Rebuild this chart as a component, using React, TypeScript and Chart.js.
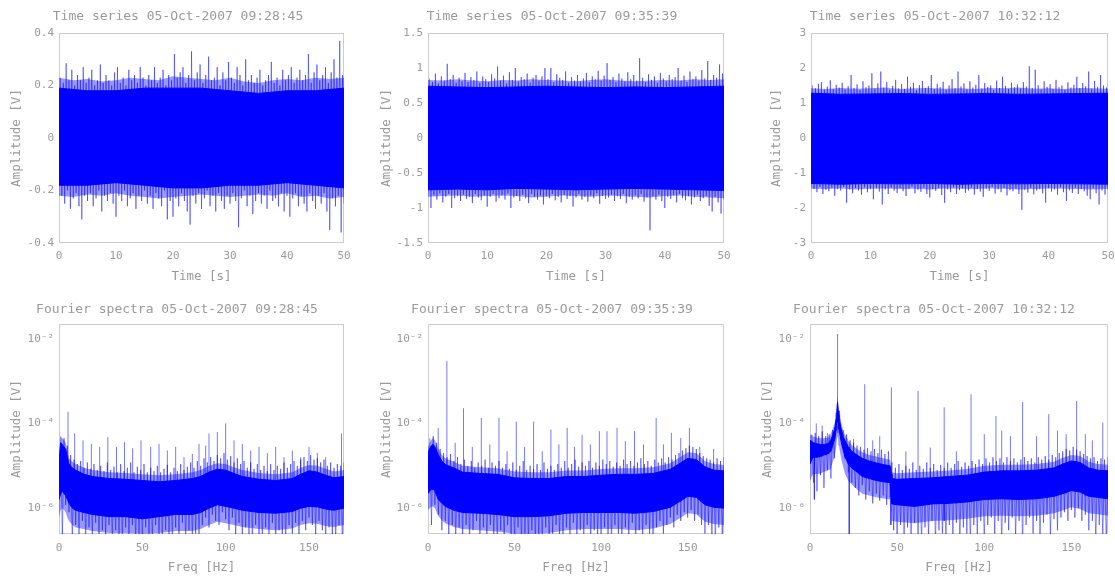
import React, { useEffect, useRef } from "react";
import { Chart, registerables } from "chart.js";

Chart.register(...registerables);

const FONT = "'DejaVu Sans Mono', 'Liberation Mono', monospace";
const TEXT = "#9a9a9a";
const FRAME = "#cccccc";
const BLUE = "#0000ff";
const HALO = "rgba(0, 0, 255, 0.4)";
const THIN = "rgba(0, 0, 255, 0.45)";
const SPIKE = "rgba(30, 30, 255, 0.6)";

// ---------- axis data ----------
const TIME_TICKS = [0, 10, 20, 30, 40, 50];
const TIME_MAX = 50;
const FREQ_TICKS = [0, 50, 100, 150];
const FREQ_MAX = 171;
const SPEC_Y_TICKS = [1e-6, 1e-4, 1e-2];
const SPEC_Y_LABELS = ["10⁻⁶", "10⁻⁴", "10⁻²"];
const SPEC_Y_MIN = 2.45e-7;
const SPEC_Y_MAX = 2.24e-2;

const TS1_Y_TICKS = [-0.4, -0.2, 0, 0.2, 0.4];
const TS2_Y_TICKS = [-1.5, -1, -0.5, 0, 0.5, 1, 1.5];
const TS3_Y_TICKS = [-3, -2, -1, 0, 1, 2, 3];

// ---------- time series (envelopes of the dense signal) ----------
const TS_CORE_T = [0, 5, 10, 15, 20, 25, 30, 35, 40, 45, 50];
const TS_HALO_T = [0, 2.5, 5, 7.5, 10, 12.5, 15, 17.5, 20, 22.5, 25, 27.5, 30, 32.5, 35, 37.5, 40, 42.5, 45, 47.5, 50];
const TS_STEP = 0.5; // spacing of the sampled spike tips [s]

const TS1_CORE_HI = [0.19, 0.18, 0.18, 0.19, 0.19, 0.19, 0.18, 0.17, 0.18, 0.18, 0.19];
const TS1_CORE_LO = [-0.18, -0.18, -0.17, -0.18, -0.19, -0.19, -0.18, -0.18, -0.17, -0.18, -0.19];
const TS1_HALO_HI = [0.23, 0.22, 0.225, 0.215, 0.22, 0.23, 0.225, 0.22, 0.235, 0.23, 0.225, 0.22, 0.23, 0.215, 0.21, 0.22, 0.225, 0.22, 0.23, 0.225, 0.23];
const TS1_HALO_LO = [-0.22, -0.225, -0.215, -0.22, -0.21, -0.22, -0.225, -0.23, -0.225, -0.22, -0.215, -0.22, -0.225, -0.22, -0.215, -0.22, -0.21, -0.225, -0.22, -0.23, -0.225];
const TS1_UP = [
  0.23, 0.21, 0.285, 0.22, 0.26, 0.2, 0.24, 0.22, 0.27, 0.21,
  0.23, 0.26, 0.2, 0.22, 0.28, 0.21, 0.24, 0.22, 0.2, 0.25,
  0.27, 0.21, 0.23, 0.2, 0.26, 0.22, 0.24, 0.21, 0.27, 0.23,
  0.2, 0.24, 0.22, 0.27, 0.21, 0.23, 0.26, 0.2, 0.24, 0.22,
  0.32, 0.23, 0.25, 0.27, 0.21, 0.24, 0.33, 0.22, 0.25, 0.28,
  0.21, 0.24, 0.31, 0.22, 0.23, 0.27, 0.2, 0.25, 0.22, 0.29,
  0.23, 0.21, 0.27, 0.24, 0.2, 0.3, 0.22, 0.24, 0.21, 0.23,
  0.26, 0.2, 0.22, 0.24, 0.29, 0.21, 0.23, 0.2, 0.26, 0.22,
  0.24, 0.27, 0.21, 0.23, 0.26, 0.22, 0.24, 0.32, 0.21, 0.25,
  0.28, 0.22, 0.24, 0.27, 0.21, 0.25, 0.3, 0.23, 0.37, 0.24,
];
const TS1_DN = [
  -0.22, -0.25, -0.2, -0.27, -0.23, -0.21, -0.26, -0.31, -0.22, -0.24,
  -0.21, -0.26, -0.23, -0.2, -0.28, -0.22, -0.24, -0.21, -0.25, -0.3,
  -0.22, -0.24, -0.2, -0.26, -0.23, -0.21, -0.27, -0.22, -0.24, -0.2,
  -0.25, -0.22, -0.27, -0.21, -0.23, -0.26, -0.2, -0.31, -0.24, -0.3,
  -0.23, -0.26, -0.21, -0.24, -0.28, -0.33, -0.22, -0.25, -0.21, -0.27,
  -0.23, -0.2, -0.26, -0.22, -0.28, -0.21, -0.24, -0.27, -0.22, -0.25,
  -0.21, -0.24, -0.34, -0.23, -0.2, -0.26, -0.22, -0.29, -0.24, -0.21,
  -0.25, -0.22, -0.27, -0.2, -0.24, -0.23, -0.26, -0.21, -0.28, -0.22,
  -0.3, -0.23, -0.21, -0.26, -0.22, -0.25, -0.28, -0.21, -0.24, -0.27,
  -0.22, -0.25, -0.21, -0.28, -0.35, -0.23, -0.26, -0.22, -0.36, -0.25,
];

const TS2_CORE_HI = [0.74, 0.73, 0.72, 0.73, 0.74, 0.73, 0.72, 0.73, 0.72, 0.73, 0.74];
const TS2_CORE_LO = [-0.74, -0.73, -0.74, -0.72, -0.73, -0.74, -0.73, -0.72, -0.73, -0.74, -0.75];
const TS2_HALO_HI = [0.83, 0.82, 0.84, 0.82, 0.81, 0.83, 0.82, 0.84, 0.83, 0.82, 0.81, 0.83, 0.84, 0.82, 0.81, 0.82, 0.83, 0.82, 0.84, 0.83, 0.84];
const TS2_HALO_LO = [-0.84, -0.83, -0.82, -0.84, -0.83, -0.82, -0.83, -0.85, -0.84, -0.82, -0.83, -0.84, -0.82, -0.83, -0.84, -0.85, -0.83, -0.82, -0.84, -0.85, -0.86];
const TS2_UP = [
  0.85, 0.8, 0.92, 0.78, 0.88, 0.82, 1.06, 0.84, 0.9, 0.79,
  0.86, 0.81, 0.93, 0.8, 0.87, 0.83, 0.95, 0.79, 0.88, 0.84,
  0.8, 0.91, 0.85, 1.02, 0.82, 0.89, 0.78, 0.94, 0.83, 1.0,
  0.81, 0.87, 0.84, 0.92, 0.79, 0.86, 0.9, 0.82, 0.88, 1.0,
  0.84, 1.0, 0.8, 0.91, 0.86, 0.83, 0.95, 0.79, 0.87, 0.82,
  0.9, 0.81, 0.85, 0.93, 0.8, 0.88, 0.84, 0.96, 0.82, 0.89,
  1.07, 0.83, 0.87, 0.8, 0.92, 0.85, 0.81, 0.94, 0.84, 0.9,
  0.82, 1.14, 0.86, 0.8, 0.91, 0.83, 0.88, 0.79, 0.93, 0.85,
  0.81, 0.9, 0.84, 0.87, 1.0, 0.82, 0.89, 0.8, 0.95, 0.84,
  0.88, 0.82, 0.97, 0.85, 1.1, 0.83, 0.9, 0.86, 1.05, 0.92,
];
const TS2_DN = [
  -1.0, -0.82, -0.88, -0.79, -0.92, -0.84, -0.8, -1.0, -0.86, -0.83,
  -0.9, -0.81, -0.87, -0.84, -0.93, -0.8, -0.85, -0.89, -0.82, -0.98,
  -0.84, -0.8, -0.91, -0.86, -0.82, -0.88, -0.79, -1.0, -0.85, -0.83,
  -0.9, -0.81, -0.86, -0.93, -0.8, -0.84, -0.88, -0.82, -0.95, -0.83,
  -0.86, -0.8, -0.89, -0.84, -0.92, -0.81, -0.87, -0.83, -0.98, -0.85,
  -0.8, -0.88, -0.84, -0.91, -0.82, -0.86, -0.79, -0.94, -0.83, -0.87,
  -0.85, -0.81, -0.9, -0.83, -0.87, -0.8, -0.93, -0.84, -0.88, -0.82,
  -0.86, -0.8, -0.91, -0.85, -1.32, -0.83, -0.88, -0.81, -0.9, -1.0,
  -0.84, -0.87, -0.82, -0.92, -0.8, -0.86, -0.89, -0.83, -0.95, -0.85,
  -0.81, -0.9, -0.86, -0.83, -0.97, -1.05, -0.84, -0.92, -1.08, -0.88,
];

const TS3_CORE_HI = [1.28, 1.25, 1.26, 1.27, 1.25, 1.26, 1.27, 1.25, 1.26, 1.27, 1.28];
const TS3_CORE_LO = [-1.3, -1.32, -1.3, -1.31, -1.3, -1.32, -1.3, -1.31, -1.3, -1.31, -1.32];
const TS3_HALO_HI = [1.42, 1.4, 1.43, 1.41, 1.42, 1.44, 1.4, 1.42, 1.43, 1.41, 1.42, 1.4, 1.43, 1.42, 1.44, 1.41, 1.42, 1.4, 1.43, 1.42, 1.41];
const TS3_HALO_LO = [-1.45, -1.46, -1.44, -1.47, -1.45, -1.44, -1.46, -1.45, -1.47, -1.44, -1.45, -1.46, -1.44, -1.45, -1.47, -1.46, -1.44, -1.45, -1.46, -1.47, -1.45];
const TS3_UP = [
  1.5, 1.42, 1.55, 1.6, 1.38, 1.47, 1.65, 1.4, 1.52, 1.44,
  1.58, 1.39, 1.48, 1.8, 1.43, 1.53, 1.37, 1.62, 1.45, 1.5,
  1.85, 1.41, 1.56, 1.9, 1.44, 1.6, 1.38, 1.49, 1.66, 1.42,
  1.54, 1.4, 1.75, 1.46, 1.58, 1.37, 1.51, 1.63, 1.43, 1.48,
  1.8, 1.4, 1.55, 1.45, 1.61, 1.38, 1.5, 1.68, 1.42, 1.9,
  1.47, 1.56, 1.39, 1.62, 1.44, 1.52, 1.8, 1.41, 1.57, 1.46,
  1.5, 1.38, 1.64, 1.43, 1.75, 1.49, 1.4, 1.58, 1.45, 1.53,
  1.41, 1.6, 1.47, 2.05, 1.43, 1.95, 1.51, 1.39, 1.62, 1.46,
  1.54, 1.4, 1.66, 1.45, 1.5, 1.38, 1.59, 1.44, 1.52, 1.75,
  1.42, 1.57, 1.48, 1.9, 1.41, 1.63, 1.46, 1.8, 1.5, 1.44,
];
const TS3_DN = [
  -1.45, -1.55, -1.4, -1.6, -1.48, -1.52, -1.42, -1.65, -1.46, -1.5,
  -1.4, -1.85, -1.47, -1.58, -1.43, -1.5, -1.62, -1.41, -1.55, -1.46,
  -1.75, -1.44, -1.53, -1.9, -1.47, -1.6, -1.42, -1.5, -1.57, -1.43,
  -1.52, -1.66, -1.45, -1.4, -1.58, -1.48, -1.54, -1.42, -1.6, -1.7,
  -1.46, -1.51, -1.43, -1.63, -1.85, -1.47, -1.55, -1.41, -1.6, -1.49,
  -1.44, -1.57, -1.5, -1.42, -1.62, -1.46, -1.53, -1.68, -1.45, -1.51,
  -1.4, -1.59, -1.47, -1.55, -1.43, -1.64, -1.49, -1.52, -1.45, -1.6,
  -2.05, -1.48, -1.56, -1.42, -1.61, -1.5, -1.46, -1.58, -1.85, -1.44,
  -1.53, -1.47, -1.62, -1.41, -1.55, -1.8, -1.49, -1.57, -1.43, -1.6,
  -1.46, -1.52, -1.65, -1.75, -1.44, -1.58, -1.9, -1.5, -1.62, -1.48,
];

// ---------- Fourier spectra ----------
const FUZZ_START = 1; // Hz
const FUZZ_STEP = 2; // Hz

const SP1_BF = [0, 1, 2, 3, 4, 5, 6, 8, 10, 15, 20, 30, 40, 50, 60, 70, 80, 85, 90, 95, 100, 105, 110, 120, 130, 140, 145, 150, 155, 160, 165, 171];
const SP1_BHI = [1.3e-5, 3.5e-5, 3.2e-5, 2.8e-5, 2.5e-5, 1.6e-5, 1.1e-5, 8.9e-6, 7.9e-6, 6.3e-6, 5.6e-6, 5e-6, 4.8e-6, 4.5e-6, 4.2e-6, 4.5e-6, 5e-6, 5.6e-6, 7.1e-6, 8.3e-6, 7.9e-6, 6.6e-6, 5.6e-6, 4.8e-6, 4.5e-6, 5e-6, 6.3e-6, 7.6e-6, 7.1e-6, 6e-6, 5.2e-6, 5.6e-6];
const SP1_BLO = [1.6e-6, 2.2e-6, 2.5e-6, 2.2e-6, 2e-6, 1.6e-6, 1.3e-6, 1e-6, 8.9e-7, 7.9e-7, 7.1e-7, 6.3e-7, 6.3e-7, 5.6e-7, 6.3e-7, 7.1e-7, 7.1e-7, 7.9e-7, 1e-6, 1.2e-6, 1.1e-6, 1e-6, 8.9e-7, 7.9e-7, 7.6e-7, 8.3e-7, 1e-6, 1.1e-6, 1.07e-6, 9.5e-7, 8.9e-7, 1e-6];
const SP1_HHI = [1.8e-5, 4.8e-5, 4.5e-5, 4e-5, 3.5e-5, 2.3e-5, 1.5e-5, 1.25e-5, 1.1e-5, 9e-6, 8e-6, 7e-6, 6.8e-6, 6.3e-6, 6e-6, 6.3e-6, 7e-6, 8e-6, 1e-5, 1.15e-5, 1.1e-5, 9.2e-6, 8e-6, 6.8e-6, 6.3e-6, 7e-6, 9e-6, 1.05e-5, 1e-5, 8.5e-6, 7.3e-6, 8e-6];
const SP1_HLO = [6e-7, 9e-7, 1e-6, 9e-7, 8e-7, 6e-7, 5e-7, 4e-7, 3.5e-7, 3.2e-7, 2.9e-7, 2.6e-7, 2.6e-7, 2.5e-7, 2.6e-7, 2.9e-7, 2.9e-7, 3.2e-7, 4e-7, 4.8e-7, 4.4e-7, 4e-7, 3.6e-7, 3.2e-7, 3e-7, 3.3e-7, 4e-7, 4.4e-7, 4.3e-7, 3.8e-7, 3.6e-7, 4e-7];
const SP1_FUP = [
  5e-5, 4.5e-5, 3e-5, 1.8e-5, 1.4e-5, 1.1e-5, 1.3e-5, 9e-6, 1.2e-5, 8.5e-6,
  1.1e-5, 8e-6, 1e-5, 7.5e-6, 1.2e-5, 8e-6, 9.5e-6, 7e-6, 1.1e-5, 7.5e-6,
  9e-6, 1.2e-5, 7e-6, 9.5e-6, 8e-6, 1.1e-5, 7e-6, 9e-6, 7.5e-6, 1e-5,
  7e-6, 8.5e-6, 1.05e-5, 7e-6, 9e-6, 7.5e-6, 1.1e-5, 8e-6, 9.5e-6, 1.2e-5,
  9e-6, 1.3e-5, 1e-5, 1.5e-5, 1.2e-5, 1.6e-5, 1.3e-5, 1.8e-5, 1.5e-5, 2e-5,
  1.4e-5, 1.7e-5, 1.2e-5, 1.5e-5, 1.1e-5, 1.3e-5, 9e-6, 1.2e-5, 8.5e-6, 1.1e-5,
  8e-6, 1e-5, 7.5e-6, 1.1e-5, 8e-6, 1e-5, 8.5e-6, 1.2e-5, 9e-6, 1.1e-5,
  1.3e-5, 1e-5, 1.4e-5, 1.6e-5, 1.3e-5, 1.8e-5, 1.4e-5, 1.5e-5, 1.2e-5, 1.4e-5,
  1e-5, 1.2e-5, 9e-6, 1.1e-5, 1e-5, 1.2e-5,
];
const SP1_FDN = [
  2e-7, 1.2e-6, 8e-7, 1.5e-7, 4e-7, 2e-7, 5e-7, 1.5e-7, 3.5e-7, 2e-7,
  4.5e-7, 1.5e-7, 3e-7, 2e-7, 4e-7, 1.5e-7, 3e-7, 2.2e-7, 1.5e-7, 3.5e-7,
  2e-7, 4e-7, 1.5e-7, 2.5e-7, 1.5e-7, 3.5e-7, 2e-7, 1.5e-7, 4e-7, 2e-7,
  1.5e-7, 3e-7, 2e-7, 1.5e-7, 3.5e-7, 2e-7, 4.5e-7, 1.5e-7, 3e-7, 1.5e-7,
  2.5e-7, 1.5e-7, 4e-7, 6e-7, 3.5e-7, 7e-7, 5e-7, 4e-7, 8e-7, 5.5e-7,
  3e-7, 6e-7, 2e-7, 4.5e-7, 1.5e-7, 3.5e-7, 2e-7, 1.5e-7, 4e-7, 2e-7,
  1.5e-7, 3.5e-7, 2e-7, 4.5e-7, 1.5e-7, 3e-7, 2e-7, 1.5e-7, 4e-7, 2.5e-7,
  4.5e-7, 2e-7, 5e-7, 3e-7, 6e-7, 4e-7, 2e-7, 5e-7, 3e-7, 1.5e-7,
  3.5e-7, 2e-7, 1.5e-7, 4e-7, 1.5e-7, 2.5e-7,
];
const SP1_PK_F = [5.4, 9.4, 14.4, 19.4, 24.4, 29.3, 34.5, 39.3, 44.2, 49.2, 55, 60, 65, 70, 75, 80, 84, 88, 90, 95, 100, 105, 110, 115, 120, 125, 130, 135, 140, 145, 150, 155, 160, 169.5];
const SP1_PK_A = [1.9e-4, 5.8e-5, 4e-5, 3.3e-5, 2.8e-5, 4.8e-5, 2.8e-5, 3.6e-5, 2.6e-5, 4e-5, 2.8e-5, 3.3e-5, 2.3e-5, 2.8e-5, 1.6e-5, 1.9e-5, 3.3e-5, 3e-5, 5.8e-5, 6.3e-5, 1e-4, 4e-5, 3.3e-5, 2.3e-5, 2.8e-5, 2e-5, 2.8e-5, 1.6e-5, 2.3e-5, 1.6e-5, 2.8e-5, 2e-5, 1.6e-5, 5.8e-5];

const SP2_BF = [0, 1, 2, 3, 4, 6, 8, 10, 15, 20, 30, 40, 50, 60, 70, 80, 90, 100, 110, 120, 130, 140, 145, 150, 155, 160, 165, 171];
const SP2_BHI = [2e-5, 2.6e-5, 3e-5, 3.2e-5, 2.8e-5, 1.8e-5, 1.3e-5, 1.07e-5, 8.9e-6, 7.1e-6, 6.6e-6, 6.3e-6, 5.2e-6, 5e-6, 5e-6, 5.6e-6, 5.6e-6, 6e-6, 6.3e-6, 6.3e-6, 6.6e-6, 8.3e-6, 1.1e-5, 1.5e-5, 1.4e-5, 9.5e-6, 7.9e-6, 7.6e-6];
const SP2_BLO = [2.2e-6, 2.5e-6, 2.8e-6, 2.8e-6, 2.5e-6, 1.6e-6, 1.3e-6, 1.1e-6, 8.9e-7, 7.9e-7, 7.6e-7, 7.1e-7, 6.3e-7, 6.3e-7, 6.6e-7, 7.6e-7, 7.9e-7, 7.9e-7, 7.9e-7, 7.6e-7, 8.3e-7, 1.05e-6, 1.4e-6, 1.9e-6, 1.8e-6, 1.2e-6, 1.05e-6, 1e-6];
const SP2_HHI = [2.8e-5, 3.6e-5, 4.2e-5, 4.5e-5, 4e-5, 2.5e-5, 1.8e-5, 1.5e-5, 1.25e-5, 1e-5, 9.2e-6, 8.8e-6, 7.3e-6, 7e-6, 7e-6, 7.8e-6, 7.8e-6, 8.4e-6, 8.8e-6, 8.8e-6, 9.2e-6, 1.15e-5, 1.55e-5, 2.1e-5, 2e-5, 1.3e-5, 1.1e-5, 1.05e-5];
const SP2_HLO = [9e-7, 1e-6, 1.1e-6, 1.1e-6, 1e-6, 6.4e-7, 5.2e-7, 4.4e-7, 3.6e-7, 3.2e-7, 3e-7, 2.8e-7, 2.5e-7, 2.5e-7, 2.6e-7, 3e-7, 3.2e-7, 3.2e-7, 3.2e-7, 3e-7, 3.3e-7, 4.2e-7, 5.6e-7, 7.6e-7, 7.2e-7, 4.8e-7, 4.2e-7, 4e-7];
const SP2_FUP = [
  4.5e-5, 5e-5, 3.5e-5, 2.5e-5, 2e-5, 1.6e-5, 1.9e-5, 1.3e-5, 1.6e-5, 1.1e-5,
  1.4e-5, 1e-5, 1.3e-5, 9e-6, 1.2e-5, 1e-5, 1.4e-5, 9e-6, 1.2e-5, 1e-5,
  1.3e-5, 9e-6, 1.1e-5, 8.5e-6, 1.2e-5, 8e-6, 1e-5, 1.3e-5, 8e-6, 1e-5,
  8.5e-6, 1.1e-5, 8e-6, 1.2e-5, 8.5e-6, 1e-5, 8e-6, 1.1e-5, 9e-6, 1.3e-5,
  9e-6, 1.1e-5, 1.4e-5, 9.5e-6, 1.2e-5, 1e-5, 1.3e-5, 9e-6, 1.2e-5, 1e-5,
  1.4e-5, 1.1e-5, 1.3e-5, 9.5e-6, 1.2e-5, 1e-5, 1.4e-5, 1.1e-5, 1.3e-5, 1e-5,
  1.2e-5, 1.5e-5, 1.1e-5, 1.3e-5, 1e-5, 1.4e-5, 1.2e-5, 1.5e-5, 1.2e-5, 1.6e-5,
  1.4e-5, 1.8e-5, 2e-5, 2.3e-5, 2.6e-5, 3e-5, 2.8e-5, 2.5e-5, 2e-5, 1.7e-5,
  1.5e-5, 1.4e-5, 1.2e-5, 1.5e-5, 1.3e-5, 1.6e-5,
];
const SP2_FDN = [
  4e-7, 1.2e-6, 7e-7, 3e-7, 5e-7, 2e-7, 4e-7, 1.5e-7, 3.5e-7, 2e-7,
  4e-7, 1.5e-7, 3e-7, 5e-7, 2e-7, 3.5e-7, 1.5e-7, 4e-7, 2e-7, 1.5e-7,
  3e-7, 1.5e-7, 4e-7, 2e-7, 1.5e-7, 3.5e-7, 1.5e-7, 2.5e-7, 1.5e-7, 3e-7,
  1.5e-7, 2e-7, 1.5e-7, 3.5e-7, 1.5e-7, 2.5e-7, 4e-7, 2e-7, 1.5e-7, 3.5e-7,
  2e-7, 4.5e-7, 1.5e-7, 3e-7, 2e-7, 4e-7, 1.5e-7, 3e-7, 2e-7, 1.5e-7,
  3.5e-7, 2e-7, 1.5e-7, 4e-7, 2.5e-7, 1.5e-7, 3.5e-7, 2e-7, 4.5e-7, 1.5e-7,
  3e-7, 2e-7, 4e-7, 2.5e-7, 1.5e-7, 3.5e-7, 5e-7, 2.5e-7, 4e-7, 6e-7,
  3.5e-7, 7e-7, 5e-7, 8e-7, 6e-7, 9e-7, 5e-7, 7e-7, 4e-7, 2.5e-7,
  4e-7, 2e-7, 1.5e-7, 3.5e-7, 2e-7, 4e-7,
];
const SP2_PK_F = [5.9, 10.9, 15.7, 20.5, 25.6, 30.8, 35.7, 41, 45.7, 51, 55.8, 61, 66, 71, 75.6, 80.4, 84.6, 89, 93.8, 99, 103.4, 109.2, 114, 119.3, 124.5, 131.8, 136, 140.6, 146, 151, 157, 165];
const SP2_PK_A = [7.9e-5, 3e-3, 3.5e-5, 2.3e-4, 2.8e-5, 1.35e-4, 3.2e-5, 1.35e-4, 2.2e-5, 1.1e-4, 2.8e-5, 1.1e-4, 2.2e-5, 7.2e-5, 3.2e-5, 7.9e-5, 2.8e-5, 5.4e-5, 3.2e-5, 6.6e-5, 6.6e-5, 7.9e-5, 3.8e-5, 6.6e-5, 3.2e-5, 1.35e-4, 3.2e-5, 6e-5, 4.5e-5, 7.9e-5, 2.8e-5, 2.5e-5];

const SP3_BF = [0, 1, 2, 4, 6, 8, 10, 11, 12, 13, 14, 14.5, 15, 15.4, 15.8, 16.2, 16.6, 17, 18, 19, 20, 22, 24, 27, 30, 34, 38, 42, 46, 46.6, 47, 50, 60, 70, 80, 90, 100, 110, 120, 130, 140, 145, 150, 155, 160, 165, 171];
const SP3_BHI = [4e-5, 3.8e-5, 3.5e-5, 3.3e-5, 3.2e-5, 3.2e-5, 3.3e-5, 3.5e-5, 4.2e-5, 5.2e-5, 7.1e-5, 8.9e-5, 1.26e-4, 2e-4, 3.2e-4, 2e-4, 1.4e-4, 1.1e-4, 7.1e-5, 5e-5, 4e-5, 2.8e-5, 2.2e-5, 1.8e-5, 1.5e-5, 1.3e-5, 1.17e-5, 1.07e-5, 1e-5, 6.3e-6, 5e-6, 4.8e-6, 5e-6, 5.2e-6, 5.6e-6, 6e-6, 7.1e-6, 7.6e-6, 7.6e-6, 7.9e-6, 8.9e-6, 1.1e-5, 1.3e-5, 1.2e-5, 8.9e-6, 7.9e-6, 7.6e-6];
const SP3_BLO = [1.1e-5, 1.4e-5, 1.6e-5, 1.6e-5, 1.66e-5, 1.8e-5, 1.9e-5, 2e-5, 2.2e-5, 3e-5, 4e-5, 5e-5, 7.1e-5, 1e-4, 1.26e-4, 1e-4, 7.6e-5, 6e-5, 3.5e-5, 2.4e-5, 1.66e-5, 1.1e-5, 8.9e-6, 7.1e-6, 5.6e-6, 5e-6, 4.5e-6, 4.2e-6, 4e-6, 1.8e-6, 1.26e-6, 1.2e-6, 1.1e-6, 1.26e-6, 1.3e-6, 1.4e-6, 1.6e-6, 1.66e-6, 1.6e-6, 1.66e-6, 1.9e-6, 2.2e-6, 2.6e-6, 2.4e-6, 1.9e-6, 1.8e-6, 1.66e-6];
const SP3_HHI = [5.5e-5, 5.3e-5, 4.9e-5, 4.6e-5, 4.5e-5, 4.5e-5, 4.6e-5, 4.9e-5, 5.9e-5, 7.3e-5, 1e-4, 1.25e-4, 1.75e-4, 2.8e-4, 4.5e-4, 2.8e-4, 2e-4, 1.55e-4, 1e-4, 7e-5, 5.6e-5, 3.9e-5, 3.1e-5, 2.5e-5, 2.1e-5, 1.8e-5, 1.65e-5, 1.5e-5, 1.4e-5, 8.8e-6, 7e-6, 6.7e-6, 7e-6, 7.3e-6, 7.8e-6, 8.4e-6, 1e-5, 1.06e-5, 1.06e-5, 1.1e-5, 1.25e-5, 1.55e-5, 1.8e-5, 1.7e-5, 1.25e-5, 1.1e-5, 1.06e-5];
const SP3_HLO = [4.4e-6, 5.6e-6, 6.4e-6, 6.4e-6, 6.6e-6, 7.2e-6, 7.6e-6, 8e-6, 8.8e-6, 1.2e-5, 1.6e-5, 2e-5, 2.8e-5, 4e-5, 5e-5, 4e-5, 3e-5, 2.4e-5, 1.4e-5, 9.6e-6, 6.6e-6, 4.4e-6, 3.6e-6, 2.8e-6, 2.2e-6, 2e-6, 1.8e-6, 1.7e-6, 1.6e-6, 7.2e-7, 5e-7, 4.8e-7, 4.4e-7, 5e-7, 5.2e-7, 5.6e-7, 6.4e-7, 6.6e-7, 6.4e-7, 6.6e-7, 7.6e-7, 8.8e-7, 1.05e-6, 9.6e-7, 7.6e-7, 7.2e-7, 6.6e-7];
const SP3_FUP = [
  5.5e-5, 6e-5, 5e-5, 6.5e-5, 5e-5, 5.5e-5, 7e-5, 1.8e-4, 1.6e-4, 7e-5,
  5.5e-5, 4e-5, 3.5e-5, 3e-5, 2.8e-5, 2.4e-5, 2.6e-5, 2.2e-5, 2.5e-5, 2e-5,
  2.4e-5, 1.9e-5, 2.2e-5, 1.2e-5, 9e-6, 1.1e-5, 8e-6, 1e-5, 8.5e-6, 1.2e-5,
  8e-6, 1e-5, 8.5e-6, 1.2e-5, 9e-6, 1.1e-5, 8e-6, 1.05e-5, 9e-6, 1.2e-5,
  9e-6, 1.1e-5, 1.3e-5, 9.5e-6, 1.2e-5, 1e-5, 1.3e-5, 1.1e-5, 1.4e-5, 1.1e-5,
  1.5e-5, 1.2e-5, 1.6e-5, 1.3e-5, 1.5e-5, 1.2e-5, 1.6e-5, 1.3e-5, 1.5e-5, 1.2e-5,
  1.4e-5, 1.6e-5, 1.3e-5, 1.5e-5, 1.2e-5, 1.6e-5, 1.4e-5, 1.7e-5, 1.4e-5, 1.8e-5,
  1.6e-5, 2e-5, 2.2e-5, 2.5e-5, 2.3e-5, 2.8e-5, 2.4e-5, 2.2e-5, 1.9e-5, 1.7e-5,
  1.5e-5, 1.6e-5, 1.3e-5, 1.5e-5, 1.4e-5, 1.6e-5,
];
const SP3_FDN = [
  4e-6, 2.5e-6, 6e-6, 3e-6, 8e-6, 5e-6, 1.5e-5, 6e-5, 4e-5, 1.5e-5,
  7e-6, 4e-6, 3e-6, 2e-6, 3.5e-6, 1.6e-6, 2.5e-6, 1.3e-6, 2.2e-6, 1.5e-6,
  2e-6, 1.2e-6, 1.8e-6, 3e-7, 1.5e-7, 4e-7, 2e-7, 3.5e-7, 1.5e-7, 4.5e-7,
  2e-7, 1.5e-7, 3.5e-7, 2e-7, 5e-7, 1.5e-7, 3e-7, 2.5e-7, 1.5e-7, 4e-7,
  2e-7, 4.5e-7, 1.5e-7, 3.5e-7, 2.5e-7, 1.5e-7, 4e-7, 2e-7, 5e-7, 1.5e-7,
  4e-7, 6e-7, 2.5e-7, 5e-7, 1.5e-7, 4.5e-7, 3e-7, 6e-7, 2e-7, 5e-7,
  1.5e-7, 4e-7, 6e-7, 2.5e-7, 5e-7, 1.5e-7, 4.5e-7, 7e-7, 2e-7, 5.5e-7,
  3e-7, 6e-7, 8e-7, 5e-7, 9e-7, 6e-7, 1e-6, 5e-7, 7e-7, 3e-7,
  5e-7, 1.5e-7, 4e-7, 2e-7, 1.5e-7, 3e-7,
];
const SP3_PK_F = [3.6, 7, 10, 15.8, 25, 31.4, 36, 40, 46.7, 55, 62, 69, 77, 84, 92.4, 100, 106.7, 110, 115, 122, 130, 137, 142, 147, 153, 158, 162, 168];
const SP3_PK_A = [1e-4, 8.9e-5, 6e-5, 1.3e-2, 4.3e-5, 8.5e-4, 4e-5, 5e-5, 7.1e-4, 2.2e-5, 5.9e-4, 2.7e-5, 2.4e-4, 2.2e-5, 4.9e-4, 5.6e-5, 1.5e-4, 6.8e-5, 5e-5, 3.2e-4, 5e-5, 1.66e-4, 6.8e-5, 5.6e-5, 3.4e-4, 5.6e-5, 4e-5, 1.05e-4];
const SP3_DIP_F = [2.5, 22.5, 46.4, 77];
const SP3_DIP_A = [1.6e-6, 1e-7, 4e-7, 5e-7];

// ---------- dataset builders ----------
type Pt = { x: number; y: number | null };

function pairs(xs: number[], ys: number[]): Pt[] {
  return xs.map((x, i) => ({ x, y: ys[i] }));
}

function band(xs: number[], hi: number[], lo: number[], color: string, order: number) {
  return [
    { data: pairs(xs, hi), borderColor: color, backgroundColor: color, borderWidth: order === 0 ? 1 : 0, fill: "+1", order },
    { data: pairs(xs, lo), borderColor: color, backgroundColor: color, borderWidth: order === 0 ? 1 : 0, fill: false, order },
  ];
}

function zigzag(up: number[], dn: number[], start: number, step: number) {
  const pts: Pt[] = [];
  up.forEach((u, i) => {
    const x = start + i * step;
    pts.push({ x, y: u }, { x: x + step / 2, y: dn[i] });
  });
  return { data: pts, borderColor: THIN, borderWidth: 1, fill: false, order: 2 };
}

function nearest(xs: number[], vs: number[], f: number) {
  let j = 0;
  xs.forEach((x, m) => {
    if (Math.abs(x - f) < Math.abs(xs[j] - f)) j = m;
  });
  return vs[j];
}

function spikes(fs: number[], tips: number[], bf: number[], base: number[]) {
  const pts: Pt[] = [];
  fs.forEach((f, k) => {
    pts.push({ x: f, y: nearest(bf, base, f) }, { x: f, y: tips[k] }, { x: f, y: null });
  });
  return { data: pts, borderColor: SPIKE, borderWidth: 1, fill: false, order: 2, spanGaps: false };
}

function timeSeries(hi: number[], lo: number[], hhi: number[], hlo: number[], up: number[], dn: number[]) {
  return [
    ...band(TS_CORE_T, hi, lo, BLUE, 0),
    ...band(TS_HALO_T, hhi, hlo, HALO, 1),
    zigzag(up, dn, TS_STEP / 2, TS_STEP),
  ];
}

function spectrum(bf: number[], bhi: number[], blo: number[], hhi: number[], hlo: number[], fup: number[], fdn: number[], pf: number[], pa: number[], df?: number[], da?: number[]) {
  const sets: any[] = [
    ...band(bf, bhi, blo, BLUE, 0),
    ...band(bf, hhi, hlo, HALO, 1),
    zigzag(fup, fdn, FUZZ_START, FUZZ_STEP),
    spikes(pf, pa, bf, blo),
  ];
  if (df && da) sets.push(spikes(df, da, bf, bhi));
  return sets;
}

// ---------- panels ----------
interface PanelDef {
  left: number; top: number; w: number; h: number;
  yw: number; pr: number; yTitlePad: number;
  titleTop: number; titleBottom: number; xGap: number;
  title: string; xTitle: string; xMax: number; xTicks: number[];
  yType: string; yMin: number; yMax: number; yTicks: number[]; yLabels?: string[];
  datasets: any[];
}

const framePlugin = {
  id: "frame",
  beforeDatasetsDraw(chart: any) {
    const { ctx, chartArea: a } = chart;
    ctx.save();
    ctx.strokeStyle = FRAME;
    ctx.lineWidth = 1;
    ctx.strokeRect(Math.round(a.left) + 0.5, Math.round(a.top) + 0.5, Math.round(a.right - a.left) - 1, Math.round(a.bottom - a.top) - 1);
    ctx.restore();
  },
};

function makeConfig(p: PanelDef): any {
  const tickFont = { family: FONT, size: 11 };
  const axisFont = { family: FONT, size: 12.5 };
  const hidden = { display: true, drawOnChartArea: false, drawTicks: true, color: "rgba(0,0,0,0)" };
  return {
    type: "line",
    data: {
      datasets: p.datasets.map((d) => ({ pointRadius: 0, pointHoverRadius: 0, tension: 0, ...d })),
    },
    options: {
      responsive: false,
      maintainAspectRatio: false,
      animation: false,
      events: [],
      layout: { padding: 0 },
      plugins: {
        legend: { display: false },
        tooltip: { enabled: false },
        title: {
          display: true,
          text: p.title,
          color: TEXT,
          font: { family: FONT, size: 13, weight: "normal" },
          padding: { top: p.titleTop, bottom: p.titleBottom },
        },
      },
      scales: {
        x: {
          type: "linear",
          min: 0,
          max: p.xMax,
          afterBuildTicks: (s: any) => { s.ticks = p.xTicks.map((v) => ({ value: v })); },
          afterFit: (s: any) => { s.height = 47; },
          grid: { ...hidden, tickLength: p.xGap },
          border: { display: false },
          ticks: { color: TEXT, font: tickFont, padding: 0, maxRotation: 0, autoSkip: false, callback: (v: any) => String(v) },
          title: { display: true, text: p.xTitle, color: TEXT, font: axisFont, padding: { top: 0, bottom: 5.5 } },
        },
        y: {
          type: p.yType,
          min: p.yMin,
          max: p.yMax,
          afterBuildTicks: (s: any) => { s.ticks = p.yTicks.map((v) => ({ value: v })); },
          afterFit: (s: any) => { s.width = p.yw; },
          grid: { ...hidden, tickLength: 5 },
          border: { display: false },
          ticks: {
            color: TEXT, font: tickFont, padding: 0, autoSkip: false,
            callback: (v: any, i: number) => (p.yLabels ? p.yLabels[i] : String(v)),
          },
          title: { display: true, text: "Amplitude [V]", color: TEXT, font: axisFont, padding: { top: p.yTitlePad, bottom: 0 } },
        },
        yR: {
          type: "linear",
          position: "right",
          display: true,
          grid: { display: false, drawTicks: false },
          border: { display: false },
          ticks: { display: false },
          afterFit: (s: any) => { s.width = p.pr; },
        },
      },
    },
    plugins: [framePlugin],
  };
}

const TOP_ROW = { top: 0, h: 290, titleTop: 9, titleBottom: 8.4, xGap: 7 };
const BOTTOM_ROW = { top: 290, h: 291, titleTop: 12.2, titleBottom: 6.2, xGap: 7.4 };

const PANELS: PanelDef[] = [
  {
    ...TOP_ROW, left: 0, w: 356, yw: 59, pr: 12, yTitlePad: 9.5,
    title: "Time series 05-Oct-2007 09:28:45", xTitle: "Time [s]", xMax: TIME_MAX, xTicks: TIME_TICKS,
    yType: "linear", yMin: -0.4, yMax: 0.4, yTicks: TS1_Y_TICKS,
    datasets: timeSeries(TS1_CORE_HI, TS1_CORE_LO, TS1_HALO_HI, TS1_HALO_LO, TS1_UP, TS1_DN),
  },
  {
    ...TOP_ROW, left: 370, w: 364, yw: 58, pr: 10, yTitlePad: 9.5,
    title: "Time series 05-Oct-2007 09:35:39", xTitle: "Time [s]", xMax: TIME_MAX, xTicks: TIME_TICKS,
    yType: "linear", yMin: -1.5, yMax: 1.5, yTicks: TS2_Y_TICKS,
    datasets: timeSeries(TS2_CORE_HI, TS2_CORE_LO, TS2_HALO_HI, TS2_HALO_LO, TS2_UP, TS2_DN),
  },
  {
    ...TOP_ROW, left: 755, w: 360, yw: 56, pr: 7, yTitlePad: 14.5,
    title: "Time series 05-Oct-2007 10:32:12", xTitle: "Time [s]", xMax: TIME_MAX, xTicks: TIME_TICKS,
    yType: "linear", yMin: -3, yMax: 3, yTicks: TS3_Y_TICKS,
    datasets: timeSeries(TS3_CORE_HI, TS3_CORE_LO, TS3_HALO_HI, TS3_HALO_LO, TS3_UP, TS3_DN),
  },
  {
    ...BOTTOM_ROW, left: 0, w: 354, yw: 59, pr: 10, yTitlePad: 9.5,
    title: "Fourier spectra 05-Oct-2007 09:28:45", xTitle: "Freq [Hz]", xMax: FREQ_MAX, xTicks: FREQ_TICKS,
    yType: "logarithmic", yMin: SPEC_Y_MIN, yMax: SPEC_Y_MAX, yTicks: SPEC_Y_TICKS, yLabels: SPEC_Y_LABELS,
    datasets: spectrum(SP1_BF, SP1_BHI, SP1_BLO, SP1_HHI, SP1_HLO, SP1_FUP, SP1_FDN, SP1_PK_F, SP1_PK_A),
  },
  {
    ...BOTTOM_ROW, left: 370, w: 364, yw: 58, pr: 10, yTitlePad: 9.5,
    title: "Fourier spectra 05-Oct-2007 09:35:39", xTitle: "Freq [Hz]", xMax: FREQ_MAX, xTicks: FREQ_TICKS,
    yType: "logarithmic", yMin: SPEC_Y_MIN, yMax: SPEC_Y_MAX, yTicks: SPEC_Y_TICKS, yLabels: SPEC_Y_LABELS,
    datasets: spectrum(SP2_BF, SP2_BHI, SP2_BLO, SP2_HHI, SP2_HLO, SP2_FUP, SP2_FDN, SP2_PK_F, SP2_PK_A),
  },
  {
    ...BOTTOM_ROW, left: 753, w: 362, yw: 57, pr: 7, yTitlePad: 7.5,
    title: "Fourier spectra 05-Oct-2007 10:32:12", xTitle: "Freq [Hz]", xMax: FREQ_MAX, xTicks: FREQ_TICKS,
    yType: "logarithmic", yMin: SPEC_Y_MIN, yMax: SPEC_Y_MAX, yTicks: SPEC_Y_TICKS, yLabels: SPEC_Y_LABELS,
    datasets: spectrum(SP3_BF, SP3_BHI, SP3_BLO, SP3_HHI, SP3_HLO, SP3_FUP, SP3_FDN, SP3_PK_F, SP3_PK_A, SP3_DIP_F, SP3_DIP_A),
  },
];

function Panel({ def }: { def: PanelDef }) {
  const ref = useRef<HTMLCanvasElement | null>(null);
  useEffect(() => {
    if (!ref.current) return;
    const chart = new Chart(ref.current, makeConfig(def));
    return () => chart.destroy();
  }, [def]);
  return (
    <canvas
      ref={ref}
      width={def.w}
      height={def.h}
      style={{ position: "absolute", left: def.left, top: def.top, width: def.w, height: def.h }}
    />
  );
}

export default function App() {
  return (
    <div style={{ position: "absolute", left: 0, top: 0, width: 1115, height: 581, background: "#ffffff", overflow: "hidden" }}>
      {PANELS.map((p, i) => (
        <Panel key={i} def={p} />
      ))}
    </div>
  );
}
